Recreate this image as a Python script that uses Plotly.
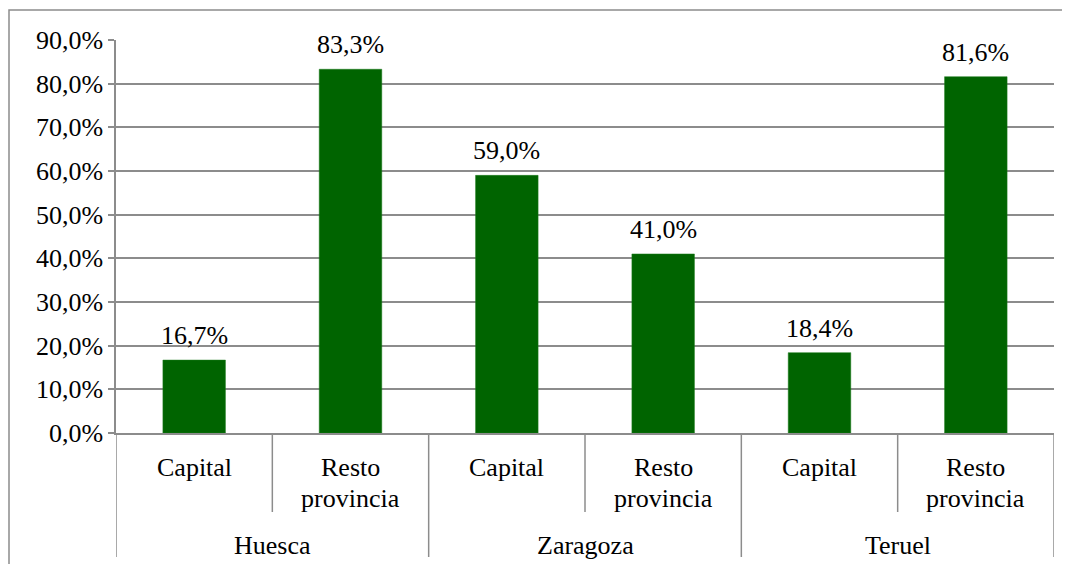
import plotly.graph_objects as go

groups = ["Huesca", "Zaragoza", "Teruel"]
subcats = ["Capital", "Resto<br>provincia"]
values = [16.7, 83.3, 59.0, 41.0, 18.4, 81.6]
y_ticks = [0, 10, 20, 30, 40, 50, 60, 70, 80, 90]

FONT = "Times New Roman"
GRAY = "#8c8c8c"
GREEN = "#006400"
FS = 26

# page has an 8px body margin; figure is placed at (8, 8)
OFF = 8
W, H = 1070 - OFF, 564 - OFF
L, T = 116 - OFF, 40 - OFF
PW, PH = 938, 393
R, B = W - L - PW, H - T - PH

def fmt(v):
    return f"{v:.1f}%".replace(".", ",")

n = len(values)
xs = list(range(n))

fig = go.Figure()
fig.add_trace(go.Bar(
    x=xs, y=values, width=0.4,
    marker=dict(color=GREEN, line=dict(color="#1a7a1a", width=0.5)),
    hoverinfo="skip",
))

def py(page_y):
    # convert page pixel y to paper coordinate
    return (433 - page_y) / PH

shapes = []
annotations = []
# data labels
for i, v in enumerate(values):
    annotations.append(dict(x=i, y=v, xref="x", yref="y", text=fmt(v),
                            showarrow=False, yanchor="bottom", yshift=8,
                            font=dict(family=FONT, size=FS, color="black")))
# category dividers
for i in range(n + 1):
    xpos = i - 0.5
    is_group = (i % len(subcats) == 0)
    shapes.append(dict(type="line", xref="x", yref="paper",
                       x0=xpos, x1=xpos, y0=0, y1=py(557 if is_group else 512),
                       line=dict(color=GRAY, width=1.5)))
# subcategory + group labels
for gi, g in enumerate(groups):
    for si, s in enumerate(subcats):
        idx = gi * len(subcats) + si
        for li, line in enumerate(s.split("<br>")):
            annotations.append(dict(x=idx, y=py(467 + 31 * li), xref="x", yref="paper",
                                    text=line, showarrow=False, yanchor="middle",
                                    font=dict(family=FONT, size=FS, color="black")))
    center = gi * len(subcats) + (len(subcats) - 1) / 2
    annotations.append(dict(x=center, y=py(545), xref="x", yref="paper",
                            text=g, showarrow=False, yanchor="middle",
                            font=dict(family=FONT, size=FS, color="black")))

# chart border
shapes.append(dict(type="rect", xref="paper", yref="paper",
                   x0=(9 - 116) / PW, x1=(1090 - 116) / PW,
                   y0=py(600), y1=py(10),
                   line=dict(color=GRAY, width=1.5), fillcolor="rgba(0,0,0,0)", layer="below"))

fig.update_layout(
    width=W, height=H,
    margin=dict(l=L, r=R, t=T, b=B),
    paper_bgcolor="white", plot_bgcolor="white",
    showlegend=False,
    shapes=shapes, annotations=annotations,
    font=dict(family=FONT, size=FS, color="black"),
)
fig.update_xaxes(range=[-0.5, n - 0.5], showticklabels=False, showgrid=False,
                 zeroline=False, showline=True, linecolor=GRAY, linewidth=1.5, ticks="")
fig.update_yaxes(range=[0, 90], tickvals=y_ticks, ticktext=[fmt(v) for v in y_ticks],
                 showgrid=True, gridcolor=GRAY, gridwidth=1.5,
                 showline=True, linecolor=GRAY, linewidth=1.5,
                 ticks="outside", ticklen=6, tickcolor=GRAY, tickwidth=1.5,
                 zeroline=False,
                 tickfont=dict(family=FONT, size=FS, color="black"))

fig.write_html("out.html")
